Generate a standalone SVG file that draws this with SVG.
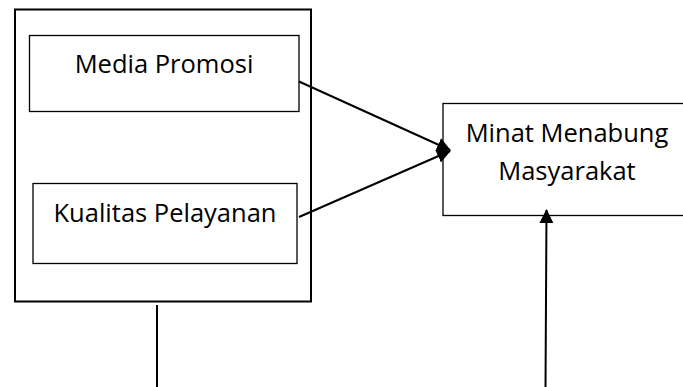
<svg xmlns="http://www.w3.org/2000/svg" width="683" height="387" viewBox="0 0 683 387">
<defs>
<style>
.box{fill:#fff;stroke:#000;stroke-width:1.3}
.outer{fill:#fff;stroke:#000;stroke-width:2}
.lbl{font-family:"Open Sans","Liberation Sans",sans-serif;font-size:25.5px;fill:#000;text-anchor:middle}
.con{fill:none;stroke:#000;stroke-width:2}
</style>
<marker id="ah" viewBox="0 0 14 14" refX="13" refY="7" markerWidth="14" markerHeight="14" markerUnits="userSpaceOnUse" orient="auto">
<path d="M0,0 L14,7 L0,14 Z" fill="#000"/>
</marker>
</defs>
<g id="group-box">
<rect class="outer" x="15" y="9.5" width="296" height="292"/>
</g>
<g id="media-promosi">
<rect class="box" x="29.5" y="35.5" width="269.5" height="76"/>
<text class="lbl" x="164" y="72.5">Media Promosi</text>
</g>
<g id="kualitas-pelayanan">
<rect class="box" x="33" y="183.5" width="264" height="80"/>
<text class="lbl" x="165" y="221.5">Kualitas Pelayanan</text>
</g>
<g id="minat-menabung">
<rect class="box" x="443" y="103.5" width="250" height="112"/>
<text class="lbl" x="567" y="142">Minat Menabung</text>
<text class="lbl" x="567" y="180">Masyarakat</text>
</g>
<g id="connectors">
<line class="con" x1="299" y1="81.5" x2="450" y2="150" marker-end="url(#ah)"/>
<line class="con" x1="299" y1="217" x2="450" y2="151" marker-end="url(#ah)"/>
<polyline class="con" points="157,305 157,388.5 545.5,388.5 546.5,210" marker-end="url(#ah)"/>
</g>
</svg>
